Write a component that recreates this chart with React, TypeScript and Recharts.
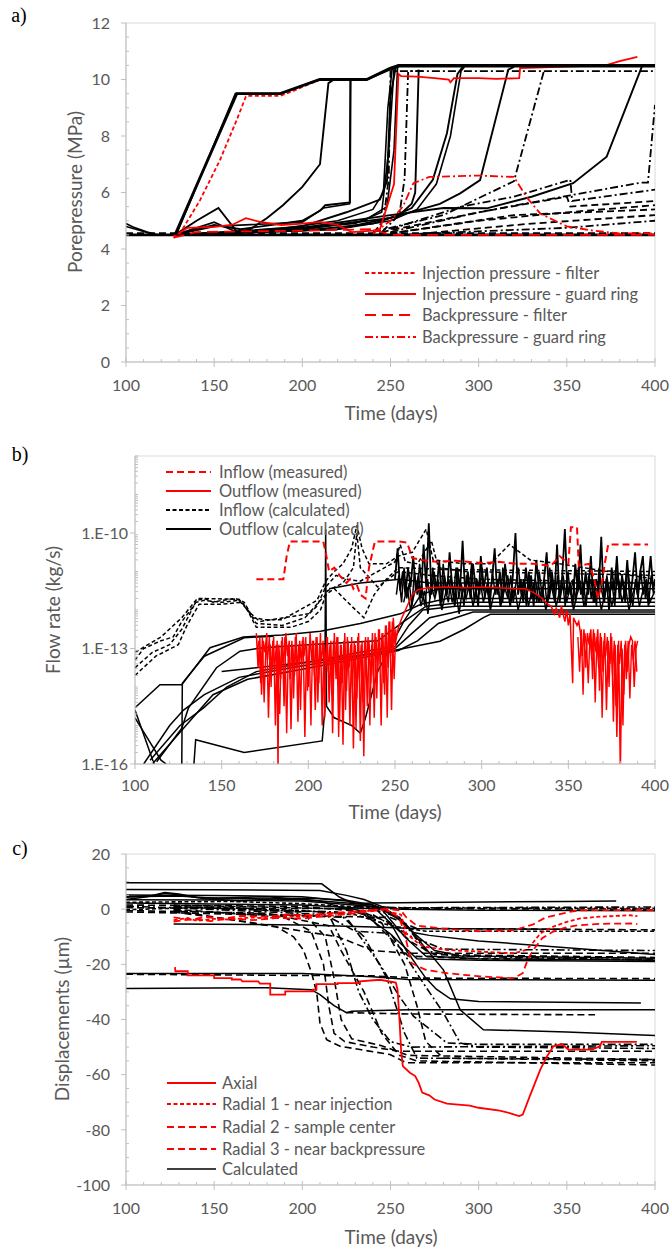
import React from 'react';
import { LineChart, Line, XAxis, YAxis, ReferenceArea } from 'recharts';

type Pt = [number, number];

// ================= Panel a: porepressure (MPa) =================
const aXTicks = [100, 150, 200, 250, 300, 350, 400];
const aYTicks = [0, 2, 4, 6, 8, 10, 12];

const aEnvelope: Pt[] = [[127.8, 4.5], [162.8, 9.5], [187.4, 9.5], [210, 10], [236.5, 10], [249.7, 10.4], [254.5, 10.5], [400, 10.5]];
const aEnvelope2: Pt[] = [[128.5, 4.5], [162, 9.5], [188, 9.5], [209, 10], [237, 10], [250, 10.35], [255, 10.45], [400, 10.45]];
const aBase: Pt[] = [[100, 4.5], [400, 4.5]];
const aStart1: Pt[] = [[100, 4.9], [104, 4.78], [112, 4.6], [118, 4.5]];
const aStart2: Pt[] = [[100, 4.8], [110, 4.62], [116, 4.5]];
const aCurveA: Pt[] = [[127.8, 4.5], [140, 5.0], [152.4, 5.45], [162.8, 4.62], [170, 4.68], [180, 5.1], [189, 5.55], [200, 6.2], [210, 7.0], [212, 8.2], [214.8, 9.87], [218, 10.0], [236.5, 10]];
const aCurveA2: Pt[] = [[127.8, 4.5], [150, 4.95], [157, 4.75], [163, 4.6], [180, 4.62], [200, 4.75], [230, 4.9], [245, 5.3], [249, 7.5], [252, 10.4]];
const aCurveB: Pt[] = [[127.8, 4.5], [150, 4.85], [165, 4.7], [200, 5.0], [210, 5.35], [213, 5.55], [227, 5.65], [227.4, 10], [236.5, 10]];
const aCurveB2: Pt[] = [[128, 4.5], [150, 4.8], [200, 4.95], [212, 5.45], [226.8, 5.6], [227.2, 10]];
const aCurveC: Pt[] = [[127.8, 4.5], [160, 4.6], [200, 4.8], [225, 5.3], [244, 5.75], [248, 6.4], [250, 9.4], [253, 10.45]];
const aCurveC2: Pt[] = [[128, 4.5], [180, 4.65], [220, 5.0], [240, 5.4], [246, 6.0], [248.5, 9.0], [251, 10.4]];
const aCurveC3: Pt[] = [[128, 4.5], [200, 4.7], [235, 5.0], [248, 5.5], [252, 7.5], [254, 10.45]];
const aCurveD1: Pt[] = [[128, 4.5], [200, 4.65], [240, 4.9], [255, 5.2], [262, 5.6], [264, 6.0], [266, 10.35]];
const aCurveD2: Pt[] = [[128, 4.5], [220, 4.7], [250, 5.1], [262, 5.45], [274, 6.45], [282, 8.1], [288, 10.2], [291, 10.45]];
const aCurveD3: Pt[] = [[128, 4.5], [220, 4.7], [250, 5.0], [265, 5.4], [276, 6.3], [284, 8.0], [290, 10.3], [292, 10.45]];
const aCurveE: Pt[] = [[127.8, 4.5], [200, 4.7], [250, 5.1], [278, 5.6], [289.5, 5.97], [300.8, 6.44], [316.8, 10.35], [320, 10.45]];
const aCurveF: Pt[] = [[127.8, 4.5], [200, 4.75], [250, 5.2], [280, 5.45], [304.6, 5.44], [330, 5.85], [353.6, 6.33], [372.6, 7.27], [392.5, 10.45]];
const aDashDot1: Pt[] = [[240, 4.55], [246, 5.0], [249, 6.5], [250, 10.3], [400, 10.3]];
const aDashDot2: Pt[] = [[245, 4.6], [255, 5.2], [258, 6.5], [260, 10.3], [270, 10.3]];
const aDashDot3: Pt[] = [[240, 4.6], [280, 5.2], [320, 6.4], [337, 10.3]];
const aDashDot4: Pt[] = [[250, 4.6], [300, 5.3], [352, 5.9], [392, 6.35], [396, 6.35], [400, 9.1]];
const aDashDot5: Pt[] = [[250, 4.7], [290, 5.5], [320, 5.85], [352, 6.45], [353, 5.7], [400, 6.1]];
const aDashDot6: Pt[] = [[270, 4.55], [350, 4.75], [400, 5.0]];
const aDash1: Pt[] = [[245, 4.6], [300, 5.3], [350, 5.85], [352, 5.5], [400, 5.7]];
const aDash2: Pt[] = [[250, 4.55], [300, 5.0], [350, 5.3], [400, 5.55]];
const aDash3: Pt[] = [[255, 4.6], [320, 5.2], [400, 5.4]];
const aDash4: Pt[] = [[260, 4.5], [330, 4.9], [400, 5.2]];
const aDash5: Pt[] = [[100, 4.55], [400, 4.55]];
const aInjFilter: Pt[] = [[127, 4.4], [130.6, 4.55], [142, 5.73], [153.3, 7.15], [162.8, 8.57], [168, 9.4], [170, 9.42], [187.4, 9.42], [195, 9.6], [210, 10], [236.5, 10], [249.7, 10.4], [254.5, 10.5]];
const aInjGuard: Pt[] = [[127, 4.45], [135, 4.75], [150, 4.78], [160, 4.85], [168, 5.09], [176, 4.96], [188, 4.85], [200, 4.9], [210, 4.96], [220, 4.85], [228, 4.6], [240, 4.65], [244, 4.7], [247, 5.3], [252, 6.3], [254.5, 10.2], [256, 10.12], [265, 10.1], [275, 10.05], [283, 10.0], [284, 9.9], [286, 10.05], [300, 10.05], [310, 10.02], [323, 10.05], [323.5, 10.4], [372, 10.5], [380, 10.65], [390, 10.8]];
const aBackFilter: Pt[] = [[127, 4.4], [140, 4.6], [200, 4.65], [240, 4.7], [250, 4.5], [400, 4.5]];
const aBackGuard: Pt[] = [[240, 4.55], [250, 5.0], [257, 5.5], [263, 6.33], [272, 6.55], [300, 6.6], [320, 6.55], [327, 5.85], [335, 5.25], [350, 4.8], [365, 4.65], [380, 4.55], [400, 4.55]];

// ================= Panel b: flow rate (kg/s), values stored as log10 =================
const bXTicks = [100, 150, 200, 250, 300, 350, 400];
const bYMajorExp = [-16, -13, -10];

const bInMeasLog: Pt[] = [[170, -11.2], [185.6, -11.2], [187.5, -10.6], [189.4, -10.22], [208.6, -10.22], [210, -10.5], [212, -11.0], [215, -10.9], [218, -11.1], [222, -11.3], [224, -11.2], [226, -11.45], [228, -11.35], [230, -11.6], [233, -11.7], [235, -10.9], [238.4, -10.22], [252, -10.22], [257, -10.25], [260, -10.65], [265, -10.7], [275, -10.75], [285, -10.72], [300, -10.78], [310, -10.75], [320, -10.8], [330, -10.8], [340, -10.85], [345, -10.6], [350, -10.8], [351.5, -9.85], [355, -9.85], [356, -10.85], [362, -10.8], [365, -11.2], [367, -11.7], [369, -11.4], [371, -10.8], [373, -10.3], [396, -10.3]];
const bOutMeasLog: Pt[] = [[170, -12.6], [171, -13.5], [172, -12.7], [173, -14.2], [174, -12.8], [175, -13.1], [176, -12.6], [177, -14.8], [178, -12.9], [179, -13.6], [180, -12.7], [181, -15.0], [182, -12.8], [182.5, -16.2], [183, -12.9], [184, -13.8], [185, -12.7], [186, -14.5], [187, -12.6], [188, -13.2], [189, -12.8], [190, -15.1], [191, -12.9], [192, -13.7], [193, -12.6], [194, -14.9], [195, -12.8], [196, -13.4], [197, -12.7], [198, -15.3], [199, -12.9], [200, -14.0], [201, -12.6], [202, -13.3], [203, -12.8], [204, -14.6], [205, -12.7], [206, -13.9], [207, -12.6], [208, -15.0], [209, -12.9], [210, -13.5], [211, -12.7], [212, -14.4], [213, -12.8], [214, -15.2], [215, -12.6], [216, -13.8], [217, -12.7], [218, -14.9], [219, -12.9], [220, -15.5], [221, -12.6], [222, -14.1], [223, -12.8], [224, -15.0], [225, -12.7], [226, -15.6], [227, -12.9], [228, -14.3], [229, -12.6], [230, -15.4], [231, -12.8], [232, -15.8], [233, -12.7], [234, -14.5], [235, -12.8], [236, -13.9], [237, -12.6], [238, -14.8], [239, -12.7], [240, -13.6], [241, -12.5], [242, -15.0], [243, -12.6], [244, -14.2], [245, -12.4], [246, -13.5], [247, -12.3], [248, -14.6], [249, -12.2], [250, -12.9], [252, -12.45], [254, -12.2], [256, -12.0], [258, -11.8], [260, -11.6], [263, -11.48], [266, -11.45], [270, -11.42], [280, -11.4], [290, -11.42], [300, -11.4], [310, -11.42], [320, -11.45], [325, -11.45], [330, -11.55], [335, -11.7], [338, -11.85], [340, -11.9], [342, -12.1], [343, -11.95], [345, -12.2], [346, -11.9], [348, -12.3], [349, -12.0], [350, -12.4], [351, -12.1], [352.5, -13.9], [353, -12.2], [355, -12.4], [356, -12.3], [357, -12.6], [358, -13.2], [359, -12.5], [360, -13.5], [361, -12.6], [362, -12.9], [363, -12.5], [364, -13.8], [365, -12.6], [366, -13.1], [367, -12.5], [368, -14.1], [369, -12.7], [370, -13.6], [371, -12.6], [372, -14.6], [373, -12.8], [374, -13.4], [375, -12.7], [376, -14.9], [377, -12.9], [378, -15.3], [379, -12.8], [380, -16.2], [381, -13.0], [382, -14.2], [383, -12.8], [384, -13.6], [385, -12.9], [386, -12.7], [387, -12.8], [388, -14.0], [389, -13.0], [390, -12.8]];
const bOutMeas2Log: Pt[] = [[170.5, -13.0], [171.5, -12.8], [172.5, -13.9], [173.5, -12.7], [174.5, -14.4], [175.5, -12.9], [176.5, -13.3], [177.5, -12.7], [178.5, -14.0], [179.5, -12.8], [180.5, -13.6], [181.5, -12.9], [183.5, -14.7], [184.5, -12.8], [185.5, -13.4], [186.5, -12.7], [187.5, -15.2], [188.5, -12.9], [189.5, -13.8], [190.5, -12.8], [191.5, -14.3], [192.5, -12.7], [193.5, -13.5], [194.5, -12.9], [195.5, -14.6], [196.5, -12.8], [197.5, -13.2], [198.5, -12.7], [199.5, -14.1], [200.5, -12.9], [201.5, -15.0], [202.5, -12.8], [203.5, -13.7], [204.5, -12.7], [205.5, -14.4], [206.5, -12.9], [207.5, -13.3], [208.5, -12.8], [209.5, -14.8], [210.5, -12.7], [211.5, -13.6], [212.5, -12.9], [213.5, -14.2], [214.5, -12.8], [215.5, -13.4], [216.5, -12.7], [217.5, -15.3], [218.5, -12.9], [219.5, -13.9], [220.5, -12.8], [221.5, -14.6], [222.5, -12.7], [223.5, -13.5], [224.5, -12.9], [225.5, -14.0], [226.5, -12.8], [227.5, -15.1], [228.5, -12.7], [229.5, -13.8], [230.5, -12.9], [231.5, -14.4], [232.5, -12.8], [233.5, -13.3], [234.5, -12.7], [235.5, -15.0], [236.5, -12.9], [237.5, -13.7], [238.5, -12.6], [239.5, -14.3], [240.5, -12.5], [241.5, -13.4], [242.5, -12.6], [243.5, -13.9], [244.5, -12.4], [245.5, -14.8], [246.5, -12.3], [247.5, -13.2], [248.5, -12.3], [249.5, -13.8], [250.5, -12.5]];
const bOutMeas3Log: Pt[] = [[355.5, -12.7], [356.5, -13.6], [357.5, -12.5], [358.5, -14.2], [359.5, -12.6], [360.5, -12.9], [361.5, -13.9], [362.5, -12.6], [363.5, -13.3], [364.5, -12.5], [365.5, -14.4], [366.5, -12.7], [367.5, -13.5], [368.5, -12.6], [369.5, -14.8], [370.5, -12.8], [371.5, -13.2], [372.5, -12.7], [373.5, -14.0], [374.5, -12.6], [375.5, -13.7], [376.5, -12.8], [377.5, -14.5], [378.5, -12.9], [379.5, -13.4], [380.5, -12.8], [381.5, -15.0], [382.5, -12.9], [383.5, -13.8], [384.5, -12.8], [385.5, -14.3], [386.5, -12.9], [387.5, -13.3], [388.5, -12.8], [389.5, -13.6]];
const bNoise1Log: Pt[] = [[250, -11.2], [251.5, -10.4], [253, -11.5], [254.5, -11.0], [256, -11.6], [257.5, -10.9], [259, -11.4], [260.5, -10.6], [262, -11.5], [263.5, -11.1], [265, -11.7], [266.5, -10.3], [268, -11.4], [269.5, -9.75], [271, -11.6], [272.5, -11.0], [274, -11.5], [275.5, -10.7], [277, -11.8], [278.5, -11.1], [280, -11.6], [281.5, -10.5], [283, -11.4], [284.5, -11.9], [286, -10.9], [287.5, -11.5], [289, -10.2], [290.5, -11.6], [292, -11.0], [293.5, -11.7], [295, -10.8], [296.5, -11.4], [298, -11.9], [299.5, -10.6], [301, -11.5], [303, -10.9], [304.5, -11.7], [306, -11.2], [307.5, -10.4], [309, -11.6], [310.5, -11.0], [312, -11.8], [313.5, -10.8], [315, -11.5], [316.5, -11.9], [318, -11.1], [319.5, -10.0], [321, -11.6], [322.5, -11.2], [324, -11.8], [325.5, -10.9], [327, -11.5], [328.5, -11.1], [330, -11.9], [331.5, -10.7], [333, -11.4], [334.5, -11.8], [336, -11.2], [337.5, -10.5], [339, -11.7], [340.5, -11.0], [342, -11.6], [343.5, -10.3], [345, -11.8], [346.5, -11.1], [348, -9.9], [349.5, -11.6], [351, -11.3], [352.5, -11.9], [354, -10.8], [355.5, -11.5], [357, -10.3], [358.5, -11.7], [360, -11.0], [361.5, -11.6], [363, -10.6], [364.5, -11.8], [366, -11.2], [367.5, -11.5], [369, -10.1], [370.5, -11.8], [372, -11.2], [373.5, -12.0], [375, -10.9], [376.5, -11.5], [378, -10.6], [379.5, -11.7], [381, -11.1], [382.5, -11.6], [384, -10.7], [385.5, -11.8], [387, -11.2], [388.5, -10.5], [390, -11.6], [391.5, -11.0], [393, -10.6], [394.5, -11.7], [396, -11.3], [397.5, -10.6], [399, -11.5], [400, -11.2]];
const bNoise2Log: Pt[] = [[255, -11.8], [257, -11.4], [259, -12.0], [261, -11.6], [263, -11.3], [265, -11.9], [267, -11.5], [269, -12.1], [271, -11.4], [273, -11.7], [275, -11.3], [277, -12.0], [279, -11.6], [281, -11.2], [283, -11.8], [285, -11.5], [287, -12.1], [289, -11.4], [291, -11.7], [293, -11.3], [295, -11.9], [297, -11.5], [299, -11.2], [301, -11.8], [303, -11.4], [305, -12.0], [307, -11.6], [309, -11.3], [311, -11.9], [313, -11.5], [315, -11.1], [317, -11.8], [319, -11.4], [321, -12.0], [323, -11.6], [325, -11.3], [327, -11.9], [329, -11.5], [331, -11.2], [333, -11.8], [335, -11.4], [337, -12.0], [339, -11.6], [341, -11.3], [343, -11.9], [345, -11.5], [347, -11.1], [349, -11.8], [351, -11.4], [353, -12.0], [355, -11.6], [357, -11.3], [359, -11.9], [361, -11.5], [363, -11.2], [365, -11.8], [367, -11.4], [369, -12.0], [371, -11.6], [373, -11.3], [375, -11.9], [377, -11.5], [379, -11.2], [381, -11.8], [383, -11.4], [385, -12.0], [387, -11.6], [389, -11.3], [391, -11.9], [393, -11.5], [395, -11.2], [397, -11.8], [400, -11.5]];
const bNoise3Log: Pt[] = [[250.8, -11.6], [252.2, -11.1], [253.8, -11.8], [255.2, -10.9], [256.8, -11.7], [258.2, -11.3], [259.8, -11.9], [261.2, -11.0], [262.8, -11.6], [264.2, -10.8], [265.8, -11.5], [267.2, -11.9], [268.8, -11.2], [270.2, -11.7], [271.8, -10.9], [273.2, -11.6], [274.8, -11.2], [276.2, -11.9], [277.8, -10.8], [279.2, -11.5], [280.8, -11.8], [282.2, -11.1], [283.8, -11.6], [285.2, -10.9], [286.8, -11.7], [288.2, -11.3], [289.8, -11.9], [291.2, -11.1], [292.8, -11.5], [294.2, -10.8], [295.8, -11.8], [297.2, -11.2], [298.8, -11.6], [300.2, -10.9], [301.8, -11.7], [303.2, -11.3], [304.8, -11.9], [306.2, -11.0], [307.8, -11.6], [309.2, -11.2], [310.8, -11.9], [312.2, -10.9], [313.8, -11.5], [315.2, -11.7], [316.8, -11.1], [318.2, -11.8], [319.8, -11.3], [321.2, -10.9], [322.8, -11.6], [324.2, -11.2], [325.8, -11.9], [327.2, -11.0], [328.8, -11.7], [330.2, -11.3], [331.8, -11.8], [333.2, -11.0], [334.8, -11.6], [336.2, -11.2], [337.8, -11.9], [339.2, -10.9], [340.8, -11.5], [342.2, -11.8], [343.8, -11.1], [345.2, -11.7], [346.8, -11.3], [348.2, -11.9], [349.8, -11.0], [351.2, -11.6], [352.8, -11.2], [354.2, -11.8], [355.8, -10.9], [357.2, -11.6], [358.8, -11.3], [360.2, -11.9], [361.8, -11.1], [363.2, -11.7], [364.8, -11.2], [366.2, -11.9], [367.8, -10.9], [369.2, -11.5], [370.8, -11.8], [372.2, -11.1], [373.8, -11.6], [375.2, -11.3], [376.8, -11.9], [378.2, -11.0], [379.8, -11.6], [381.2, -11.2], [382.8, -11.8], [384.2, -10.9], [385.8, -11.5], [387.2, -11.9], [388.8, -11.2], [390.2, -11.7], [391.8, -11.0], [393.2, -11.6], [394.8, -11.3], [396.2, -11.9], [397.8, -11.1], [399.2, -11.6]];
const bIn1Log: Pt[] = [[100, -13.3], [105, -13.0], [115, -12.8], [122, -12.7], [127, -12.3], [132, -12.0], [136, -11.75], [140, -11.7], [145, -11.8], [150, -11.75], [158, -11.7], [163, -11.8], [168, -12.2], [175, -12.25], [185, -12.25], [195, -12.0], [205, -11.75], [210, -11.25], [215, -11.0], [220, -10.8], [225, -10.4], [228, -9.8], [231, -10.4], [235, -10.8], [245, -10.8], [252, -10.6], [260, -10.5], [268, -9.9], [272, -10.7], [290, -10.8], [305, -10.8], [316, -10.3], [328, -10.7], [345, -10.8], [400, -11.2]];
const bIn2Log: Pt[] = [[100, -13.5], [110, -13.1], [120, -12.9], [127, -12.5], [135, -11.8], [140, -11.75], [150, -11.8], [160, -11.75], [165, -12.0], [170, -12.35], [185, -12.4], [198, -12.2], [205, -11.9], [210, -11.4], [216, -11.1], [222, -11.2], [230, -11.25], [240, -11.0], [250, -10.75], [253, -10.3], [256, -10.75], [263, -10.8], [271, -10.2], [275, -10.9], [290, -11.0], [400, -11.1]];
const bIn3Log: Pt[] = [[100, -13.7], [112, -13.2], [125, -12.9], [130, -12.4], [137, -11.85], [150, -11.85], [162, -11.8], [166, -12.1], [170, -12.45], [190, -12.45], [200, -12.3], [207, -12.0], [211, -11.5], [220, -11.3], [226, -10.9], [228, -10.0], [230, -10.9], [240, -11.4], [252, -11.0], [270, -11.1], [300, -11.2], [400, -11.3]];
const bIn4Log: Pt[] = [[100, -13.1], [115, -12.7], [127, -12.2], [136, -11.7], [160, -11.72], [167, -12.1], [172, -12.3], [200, -12.1], [210, -11.6], [215, -11.45], [225, -11.9], [232, -12.2], [238, -11.6], [245, -11.2], [252, -10.9], [280, -10.95], [400, -11.0]];
const bOut1Log: Pt[] = [[100, -14.6], [111, -16]];
const bOut2Log: Pt[] = [[100, -14.54], [114.4, -13.94], [127, -13.94], [143.3, -12.98], [162.5, -12.7], [185, -12.65], [207, -12.55], [230, -12.35], [253, -12.1], [265, -11.85], [280, -11.7], [400, -11.7]];
const bOut3Log: Pt[] = [[112.5, -15.94], [127, -15.07], [130.8, -14.55], [147, -13.5], [160.6, -13.07], [174, -12.98], [200, -12.9], [240, -12.8], [255, -12.3], [268, -11.9], [290, -11.8], [400, -11.8]];
const bOut4Log: Pt[] = [[108.7, -15.9], [126, -15.0], [139.4, -14.55], [152.9, -14.0], [170, -13.6], [200, -13.35], [230, -13.1], [250, -12.95], [258, -12.4], [266, -12.0], [285, -11.9], [400, -11.9]];
const bOut5Log: Pt[] = [[105, -16], [120, -15.0], [128, -14.6], [140, -14.2], [160, -13.75], [190, -13.5], [230, -13.2], [250, -13.0], [260, -12.6], [270, -12.2], [290, -12.0], [400, -12.0]];
const bOut6Log: Pt[] = [[110, -16], [127.5, -15.1], [145, -14.2], [165, -13.8], [195, -13.55], [230, -13.25], [252, -13.05], [263, -12.8], [275, -12.35], [295, -12.05], [400, -12.05]];
const bOut7Log: Pt[] = [[150, -13.6], [200, -13.35], [247, -13.07], [276, -12.81], [290, -12.5], [301, -12.2], [305, -12.11], [400, -12.11]];
const bOut8Log: Pt[] = [[127, -16], [127.3, -13.9], [140, -13.2], [163, -12.72], [180, -12.68]];
const bOut9Log: Pt[] = [[134, -16], [135, -15.37], [163, -15.7], [208, -15.4], [209.5, -14.6], [210, -9.9], [210.5, -14.5], [215, -14.8], [220, -14.9], [225, -15.0], [230, -15.2], [233, -14.8], [240, -13.6], [248, -12.9], [255, -12.3], [265, -11.6], [275, -11.45], [400, -11.45]];
const bOut10Log: Pt[] = [[100, -14.8], [115, -15.9], [118, -16]];
const bOut11Log: Pt[] = [[212, -11.45], [230, -11.3], [253, -11.2], [270, -11.3], [400, -11.3]];

// ================= Panel c: displacements (µm) =================
const cXTicks = [100, 150, 200, 250, 300, 350, 400];
const cYTicks = [-100, -80, -60, -40, -20, 0, 20];

const cS1: Pt[] = [[100, 9.6], [150, 9.5], [211, 9.2], [221, 4.4], [229, 2.0], [240, 2.2], [300, 2.6], [350, 2.8], [378, 3.0]];
const cS2: Pt[] = [[100, 7.1], [150, 7.0], [210, 6.8], [225, 5.0], [235, 3.5], [245, 1.0], [255, 0], [300, -0.4], [400, -0.6]];
const cS3: Pt[] = [[100, 5.1], [150, 5.0], [200, 4.5], [225, 3.0], [245, 0], [258, -5], [263, -8.5], [272, -9.5], [300, -11.5], [350, -14], [400, -16.4]];
const cS4: Pt[] = [[100, 4.3], [115, 5.0], [122, 6.0], [130, 5.5], [140, 4.2], [170, 3.8], [200, 3.5], [240, 1.5], [255, -3], [263, -8.8], [280, -22], [289.5, -36.5], [302.7, -43.7], [350, -44.5], [400, -45.8]];
const cS5: Pt[] = [[100, 3.4], [150, 3.3], [200, 3.0], [240, 1.0], [250, -5], [259, -15], [270, -25], [276, -29], [284, -32.5], [300, -33.5], [392, -34]];
const cS6: Pt[] = [[100, 2.2], [200, 1.5], [245, 0], [258, -10], [270, -17], [300, -18], [400, -18.5]];
const cS7: Pt[] = [[127, -5.4], [200, -5.7], [240, -6.5], [264, -7], [350, -7.3]];
const cS8: Pt[] = [[100, -23.3], [200, -23.3], [240, -24.5], [260, -25.5], [400, -25.8]];
const cS9: Pt[] = [[100, -28.8], [180, -28.5], [205, -29.2], [210, -31], [218, -35], [225, -37.5], [228, -37], [260, -36.5], [400, -36.5]];
const cS10: Pt[] = [[100, 4.5], [130, 4.8], [150, 4.0], [180, 4.5], [210, 3.0], [235, -2], [250, -9], [265, -18], [300, -18.5], [400, -19]];
const cS11: Pt[] = [[100, 3.5], [112, 4.5], [122, 5.8], [132, 5.0], [145, 3.8], [165, 3.0], [185, 3.8], [205, 4.0], [225, 3.2], [240, 1.5], [250, -1], [262, -8], [275, -15], [290, -17], [400, -17.8]];
const cD1: Pt[] = [[127, -1], [168.5, -4.6], [185.5, -6.4], [195, -10], [200.6, -14.8], [205.3, -23.2], [208.2, -30.4], [210, -41.3], [213.8, -47.3], [221.4, -49.7], [232.7, -50.9], [249.7, -52.7], [259, -55.7], [400, -55.7]];
const cD2: Pt[] = [[127, 0], [190, -3], [205, -8], [212, -20], [215, -35], [218, -45], [224, -48], [240, -50], [255, -51.5], [400, -51.5]];
const cD3: Pt[] = [[127, 1], [200, -1], [213, -10], [218, -25], [222, -40], [228, -47], [245, -49.5], [260, -53], [400, -54.5]];
const cD4: Pt[] = [[127, 1.5], [230, 0], [245, -5], [258, -20], [265, -35], [270, -48], [280, -54], [400, -55]];
const cD5: Pt[] = [[230, 0], [250, -5], [262, -12], [275, -16.5], [400, -17.5]];
const cD6: Pt[] = [[100, 0.5], [240, 0.2], [400, 0]];
const cD7: Pt[] = [[100, -1], [250, -3], [265, -7], [400, -7.5]];
const cD8: Pt[] = [[127, -0.5], [220, -10], [240, -15], [260, -16], [400, -16]];
const cD9: Pt[] = [[225, -37.5], [260, -38], [366, -38.3]];
const cD10: Pt[] = [[100, -23.6], [240, -24.2], [265, -25], [400, -25.2]];
const cD11: Pt[] = [[100, 1.5], [200, 1.0], [235, -1], [260, -17], [300, -18], [400, -18.2]];
const cD12: Pt[] = [[100, -0.5], [180, -1.5], [215, -6], [222, -15], [228, -22], [235, -30], [245, -45], [255, -53], [265, -55], [400, -56.5]];
const cD13: Pt[] = [[100, 2.5], [160, 2.8], [200, 2.0], [240, 0.5], [400, 0.3]];
const cD14: Pt[] = [[100, -0.2], [150, 0.8], [200, -0.5], [230, -2], [250, -6], [270, -8], [400, -8]];
const cDD1: Pt[] = [[127, 0.5], [215, -2], [225, -15], [232, -30], [240, -40], [250, -48], [262, -50], [400, -49.5]];
const cDD2: Pt[] = [[127, -0.5], [225, -3], [244, -20], [255, -31.6], [263, -38.8], [282, -48.5], [300, -49], [400, -49]];
const cDD3: Pt[] = [[240, 0], [255, -3], [270, -15], [285, -17], [400, -18.5]];
const cDD4: Pt[] = [[240, -2], [262, -10], [280, -14.5], [400, -15]];
const cDD5: Pt[] = [[127, 1], [210, -1], [230, -8], [250, -8.8], [268.6, -26.8], [280, -37.6], [289.5, -48.5], [300, -50], [400, -50.5]];
const cDD6: Pt[] = [[100, 1], [220, -1], [235, -10], [248, -25], [258, -45], [265, -54], [400, -54.5]];
const cDD7: Pt[] = [[230, 1], [260, 0.5], [400, 0.8]];
const cAxial: Pt[] = [[127.8, -21], [128, -22.5], [135, -22.5], [135, -24], [150, -24], [150, -25], [160, -25], [160, -25.5], [165, -25.5], [166, -26.2], [175, -26.2], [176, -27], [181.8, -27], [181.8, -31], [190.3, -31], [190.3, -29.8], [206, -29.8], [206, -29.2], [208, -29.2], [208, -27.2], [220, -27.2], [220, -26.8], [232.7, -26.8], [232.7, -26.2], [244, -25.6], [253, -26.6], [254, -29.2], [255, -38.9], [256, -50.9], [257, -56.9], [261, -59.3], [264, -60.5], [266, -63], [268, -66.5], [272, -67.5], [275, -69], [282, -70.5], [295, -71.2], [300, -72], [312, -73], [318, -74], [323, -75], [325, -74.5], [329, -67.8], [335, -58.1], [338.8, -53.3], [342.4, -49.7], [347.1, -48.9], [350.9, -50.9], [364.1, -50.9], [368.8, -49.7], [369.8, -48.1], [389.7, -48.1]];
const cRadial1: Pt[] = [[127, -4], [135, -3.2], [140, -4.2], [150, -3.5], [160, -3.8], [170, -3], [180, -3.3], [190, -2.5], [200, -2.8], [210, -2], [220, -1.6], [230, -1], [240, -0.5], [244, 0], [256, -2], [259, -8.8], [265, -12], [269, -13.6], [282, -14.8], [301, -15.4], [320, -16], [327, -14.8], [331, -12], [335, -8.8], [342, -6.4], [350, -4.6], [357, -3.4], [367, -2.8], [386, -2.2], [390, -2.5]];
const cRadial2: Pt[] = [[127, -3], [137, -3.8], [145, -2.8], [155, -3.5], [165, -2.4], [180, -2.8], [190, -2], [205, -2.2], [215, -1.5], [230, -0.8], [247, 0], [255, -3], [258, -9], [262, -19.6], [270, -22], [282, -23.2], [301, -24.4], [320, -25], [325, -23.2], [328, -18], [331, -14.8], [336, -10.5], [342, -8.2], [350, -6.5], [357, -5.8], [370, -5.3], [386, -5.2], [390, -5.4]];
const cRadial3: Pt[] = [[127, -4.5], [138, -3.6], [148, -4.3], [160, -3.3], [172, -4], [185, -3.2], [200, -3.4], [215, -2.4], [230, -1.5], [248, 0], [256, -0.5], [259, -3], [265, -6], [282, -7.2], [300, -8], [320, -7.6], [331, -5.5], [338, -3], [350, -1.2], [357, -0.4], [390, -0.3], [400, -0.3]];

// ================= styling =================
const RED = '#ff0000';
const BLK = '#000000';
const AXIS = '#bfbfbf';
const BORDER = '#d9d9d9';
const TXT = '#595959';
const FONT = 'Lato, "Open Sans", sans-serif';
const SHORT = '4 2.5';
const LONG = '11 6';
const MED = '7 4';
const DASHDOT = '8 3 2 3';

interface S { d: Pt[]; c: string; dash?: string; w?: number }

const aSeries: S[] = [
  { d: aBase, c: BLK, w: 2.8 }, { d: aStart1, c: BLK, w: 1.6 }, { d: aStart2, c: BLK, w: 1.6 },
  { d: aCurveA, c: BLK, w: 1.9 }, { d: aCurveA2, c: BLK, w: 1.6 }, { d: aCurveB, c: BLK, w: 1.9 }, { d: aCurveB2, c: BLK, w: 1.6 },
  { d: aCurveC, c: BLK, w: 1.9 }, { d: aCurveC2, c: BLK, w: 1.6 }, { d: aCurveC3, c: BLK, w: 1.6 },
  { d: aCurveD1, c: BLK, w: 1.9 }, { d: aCurveD2, c: BLK, w: 1.9 }, { d: aCurveD3, c: BLK, w: 1.6 },
  { d: aCurveE, c: BLK, w: 1.9 }, { d: aCurveF, c: BLK, w: 1.9 },
  { d: aDashDot1, c: BLK, dash: DASHDOT, w: 1.8 }, { d: aDashDot2, c: BLK, dash: DASHDOT, w: 1.8 }, { d: aDashDot3, c: BLK, dash: DASHDOT, w: 1.8 },
  { d: aDashDot4, c: BLK, dash: DASHDOT, w: 1.8 }, { d: aDashDot5, c: BLK, dash: DASHDOT, w: 1.8 }, { d: aDashDot6, c: BLK, dash: DASHDOT, w: 1.8 },
  { d: aDash1, c: BLK, dash: MED, w: 1.8 }, { d: aDash2, c: BLK, dash: MED, w: 1.8 }, { d: aDash3, c: BLK, dash: MED, w: 1.8 }, { d: aDash4, c: BLK, dash: MED, w: 1.8 },
  { d: aDash5, c: BLK, dash: MED, w: 2.6 },
  { d: aBackFilter, c: RED, dash: LONG, w: 1.8 }, { d: aBackGuard, c: RED, dash: DASHDOT, w: 1.8 },
  { d: aInjFilter, c: RED, dash: SHORT, w: 1.8 }, { d: aInjGuard, c: RED, w: 1.8 },
  { d: aEnvelope, c: BLK, w: 2.8 }, { d: aEnvelope2, c: BLK, w: 1.6 },
];

const bSeries: S[] = [
  { d: bOut1Log, c: BLK, w: 1.5 }, { d: bOut2Log, c: BLK, w: 1.5 }, { d: bOut3Log, c: BLK, w: 1.5 }, { d: bOut4Log, c: BLK, w: 1.5 },
  { d: bOut5Log, c: BLK, w: 1.5 }, { d: bOut6Log, c: BLK, w: 1.5 }, { d: bOut7Log, c: BLK, w: 1.5 }, { d: bOut8Log, c: BLK, w: 1.5 },
  { d: bOut9Log, c: BLK, w: 1.5 }, { d: bOut10Log, c: BLK, w: 1.5 }, { d: bOut11Log, c: BLK, w: 1.5 },
  { d: bIn1Log, c: BLK, dash: SHORT, w: 1.5 }, { d: bIn2Log, c: BLK, dash: SHORT, w: 1.5 }, { d: bIn3Log, c: BLK, dash: SHORT, w: 1.5 }, { d: bIn4Log, c: BLK, dash: SHORT, w: 1.5 },
  { d: bNoise2Log, c: BLK, w: 1.5 }, { d: bNoise3Log, c: BLK, w: 1.5 }, { d: bNoise1Log, c: BLK, w: 1.8 },
  { d: bOutMeas2Log, c: RED, w: 1.4 }, { d: bOutMeas3Log, c: RED, w: 1.4 }, { d: bOutMeasLog, c: RED, w: 1.5 }, { d: bInMeasLog, c: RED, dash: MED, w: 2 },
];

const cSeries: S[] = [
  { d: cS1, c: BLK, w: 1.5 }, { d: cS2, c: BLK, w: 1.5 }, { d: cS3, c: BLK, w: 1.5 }, { d: cS4, c: BLK, w: 1.5 }, { d: cS5, c: BLK, w: 1.5 },
  { d: cS6, c: BLK, w: 1.5 }, { d: cS7, c: BLK, w: 1.5 }, { d: cS8, c: BLK, w: 1.5 }, { d: cS9, c: BLK, w: 1.5 }, { d: cS10, c: BLK, w: 1.5 }, { d: cS11, c: BLK, w: 1.5 },
  { d: cD1, c: BLK, dash: MED, w: 1.6 }, { d: cD2, c: BLK, dash: MED, w: 1.6 }, { d: cD3, c: BLK, dash: MED, w: 1.6 }, { d: cD4, c: BLK, dash: MED, w: 1.6 },
  { d: cD5, c: BLK, dash: MED, w: 1.6 }, { d: cD6, c: BLK, dash: MED, w: 1.6 }, { d: cD7, c: BLK, dash: MED, w: 1.6 }, { d: cD8, c: BLK, dash: MED, w: 1.6 },
  { d: cD9, c: BLK, dash: MED, w: 1.6 }, { d: cD10, c: BLK, dash: MED, w: 1.6 }, { d: cD11, c: BLK, dash: MED, w: 1.6 }, { d: cD12, c: BLK, dash: MED, w: 1.6 },
  { d: cD13, c: BLK, dash: SHORT, w: 1.6 }, { d: cD14, c: BLK, dash: SHORT, w: 1.6 },
  { d: cDD1, c: BLK, dash: DASHDOT, w: 1.6 }, { d: cDD2, c: BLK, dash: DASHDOT, w: 1.6 }, { d: cDD3, c: BLK, dash: DASHDOT, w: 1.6 },
  { d: cDD4, c: BLK, dash: DASHDOT, w: 1.6 }, { d: cDD5, c: BLK, dash: DASHDOT, w: 1.6 }, { d: cDD6, c: BLK, dash: DASHDOT, w: 1.6 }, { d: cDD7, c: BLK, dash: DASHDOT, w: 1.6 },
  { d: cRadial3, c: RED, dash: MED, w: 1.8 }, { d: cRadial2, c: RED, dash: MED, w: 1.8 }, { d: cRadial1, c: RED, dash: SHORT, w: 1.8 },
  { d: cAxial, c: RED, w: 1.8 },
];

const legA = [
  { t: 'Injection pressure - filter', c: RED, dash: SHORT },
  { t: 'Injection pressure - guard ring', c: RED, dash: undefined },
  { t: 'Backpressure - filter', c: RED, dash: LONG },
  { t: 'Backpressure - guard ring', c: RED, dash: DASHDOT },
];
const legB = [
  { t: 'Inflow (measured)', c: RED, dash: MED },
  { t: 'Outflow (measured)', c: RED, dash: undefined },
  { t: 'Inflow (calculated)', c: BLK, dash: SHORT },
  { t: 'Outflow (calculated)', c: BLK, dash: undefined },
];
const legC = [
  { t: 'Axial', c: RED, dash: undefined },
  { t: 'Radial 1 - near injection', c: RED, dash: SHORT },
  { t: 'Radial 2 - sample center', c: RED, dash: MED },
  { t: 'Radial 3 - near backpressure', c: RED, dash: MED },
  { t: 'Calculated', c: '#404040', dash: undefined },
];

// ================= helpers =================
const steps = (a: number, b: number, s: number) => {
  const r: number[] = [];
  for (let v = a; v <= b + 1e-9; v += s) r.push(Math.round(v * 1000) / 1000);
  return r;
};
const logTicks = () => {
  const r: number[] = [];
  for (let n = -16; n <= -9; n++) for (let k = 1; k <= 9; k++) r.push(Number(`${k}e${n}`));
  r.push(1e-8);
  return r;
};
const isMajor = (v: number, majors: number[]) => majors.some((m) => (m === 0 ? v === 0 : Math.abs(v - m) <= Math.abs(m) * 1e-6));
const fromLog = (e: number) => Math.pow(10, e);

const TICK_FS = 16;
const LEG_FS = 16.5;
const TITLE_FS = 19;

const makeXTick = (majors: number[], off: number) => (props: any) => {
  const { x, y, payload } = props;
  const v = payload.value;
  const ay = y - off;
  const maj = isMajor(v, majors);
  return (
    <g>
      <line x1={x} x2={x} y1={ay - (maj ? 4 : 3)} y2={ay + (maj ? 5 : 0)} stroke={AXIS} />
      {maj && (
        <text x={x} y={y} dy="0.71em" textAnchor="middle" fill={TXT} fontSize={TICK_FS} fontFamily={FONT}>
          {v}
        </text>
      )}
    </g>
  );
};
const makeYTick = (majors: number[], off: number, fmt: (v: number) => string) => (props: any) => {
  const { x, y, payload } = props;
  const v = payload.value;
  const ax = x + off;
  const maj = isMajor(v, majors);
  return (
    <g>
      <line x1={ax - (maj ? 5 : 0)} x2={ax + (maj ? 0 : 3)} y1={y} y2={y} stroke={AXIS} />
      {maj && (
        <text x={x} y={y} dy="0.36em" textAnchor="end" fill={TXT} fontSize={TICK_FS} fontFamily={FONT}>
          {fmt(v)}
        </text>
      )}
    </g>
  );
};

interface PanelProps {
  top: number; height: number; margin: any; yWidth: number;
  series: S[]; yDomain: [number, number]; yTicks: number[]; yMajors: number[];
  yFmt: (v: number) => string; log?: boolean; xOff: number; yOff: number; xMajors: number[];
}

function Panel(p: PanelProps) {
  const xTicks = steps(100, 400, 10);
  return (
    <div style={{ position: 'absolute', left: 0, top: p.top, width: 670, height: p.height }}>
      <LineChart width={670} height={p.height} margin={p.margin}>
        <XAxis type="number" dataKey="x" domain={[100, 400]} allowDataOverflow ticks={xTicks} interval={0}
          tickLine={false} axisLine={{ stroke: AXIS }} tickSize={5} tickMargin={p.xOff - 5}
          tick={makeXTick(p.xMajors, p.xOff)} height={30} />
        <YAxis type="number" dataKey="y" domain={p.yDomain} scale={p.log ? 'log' : 'auto'} allowDataOverflow
          ticks={p.yTicks} interval={0} tickLine={false} axisLine={{ stroke: AXIS }} tickSize={5} tickMargin={p.yOff - 5}
          tick={makeYTick(p.yMajors, p.yOff, p.yFmt)} width={p.yWidth} />
        <ReferenceArea x1={100} x2={400} y1={p.yDomain[0]} y2={p.yDomain[1]} fill="none" fillOpacity={0} stroke={BORDER} ifOverflow="visible" />
        {p.series.map((s, i) => (
          <Line key={i} data={s.d.map(([x, y]) => ({ x, y: p.log ? fromLog(y) : y }))}
            dataKey="y" type="linear" stroke={s.c} strokeWidth={s.w || 1.4} strokeDasharray={s.dash}
            dot={false} activeDot={false} isAnimationActive={false} />
        ))}
      </LineChart>
    </div>
  );
}

function Legend({ items, x1, x2, tx, ys }: { items: { t: string; c: string; dash?: string }[]; x1: number; x2: number; tx: number; ys: number[] }) {
  return (
    <g>
      {items.map((it, i) => (
        <g key={i}>
          <line x1={x1} x2={x2} y1={ys[i]} y2={ys[i]} stroke={it.c} strokeWidth={2} strokeDasharray={it.dash} />
          <text x={tx} y={ys[i]} dy="0.36em" fill={TXT} fontSize={LEG_FS} fontFamily={FONT}>{it.t}</text>
        </g>
      ))}
    </g>
  );
}

export default function App() {
  const aY = steps(0, 12, 0.5);
  const cY = steps(-100, 20, 5);
  const bY = logTicks();
  const bMaj = bYMajorExp.map((e) => Number(`1e${e}`));
  const title = (x: number, y: number, t: string, rot = false) => (
    <text x={x} y={y} dy="0.36em" textAnchor="middle" fill={TXT} fontSize={TITLE_FS} fontFamily={FONT}
      transform={rot ? `rotate(-90 ${x} ${y})` : undefined}>{t}</text>
  );
  const lbl = (x: number, y: number, t: string) => (
    <text x={x} y={y} dy="0.36em" textAnchor="middle" fill="#000" fontSize={20} fontFamily='"Liberation Serif", "Times New Roman", serif'>{t}</text>
  );
  return (
    <div style={{ position: 'absolute', left: 0, top: 0, width: 670, height: 1250, background: '#fff' }}>
      <Panel top={0} height={420} margin={{ top: 23, right: 15, bottom: 28, left: 86 }} yWidth={40}
        series={aSeries} yDomain={[0, 12]} yTicks={aY} yMajors={aYTicks} yFmt={(v) => String(v)}
        xOff={18} yOff={16} xMajors={aXTicks} />
      <Panel top={420} height={410} margin={{ top: 36, right: 15, bottom: 36, left: 75 }} yWidth={60}
        series={bSeries} yDomain={[1e-16, 1e-8]} yTicks={bY} yMajors={bMaj}
        yFmt={(v) => `1.E${Math.round(Math.log10(v))}`} log xOff={16} yOff={7} xMajors={bXTicks} />
      <Panel top={830} height={420} margin={{ top: 24, right: 15, bottom: 35, left: 86 }} yWidth={40}
        series={cSeries} yDomain={[-100, 20]} yTicks={cY} yMajors={cYTicks} yFmt={(v) => String(v)}
        xOff={18} yOff={16} xMajors={cXTicks} />
      <svg width={670} height={1250} style={{ position: 'absolute', left: 0, top: 0, pointerEvents: 'none' }}>
        {lbl(19, 15, 'a)')}
        {lbl(20, 454, 'b)')}
        {lbl(20, 848, 'c)')}
        {title(75, 192, 'Porepressure (MPa)', true)}
        {title(53, 610, 'Flow rate (kg/s)', true)}
        {title(62, 1019, 'Displacements (µm)', true)}
        {title(391, 413, 'Time (days)')}
        {title(395, 812, 'Time (days)')}
        {title(391, 1237, 'Time (days)')}
        <Legend items={legA} x1={365} x2={416} tx={422} ys={[273, 294, 315, 337]} />
        <Legend items={legB} x1={166} x2={211} tx={219} ys={[472, 491, 510, 529]} />
        <Legend items={legC} x1={167} x2={216} tx={222} ys={[1083, 1104, 1127, 1149, 1169]} />
      </svg>
    </div>
  );
}
